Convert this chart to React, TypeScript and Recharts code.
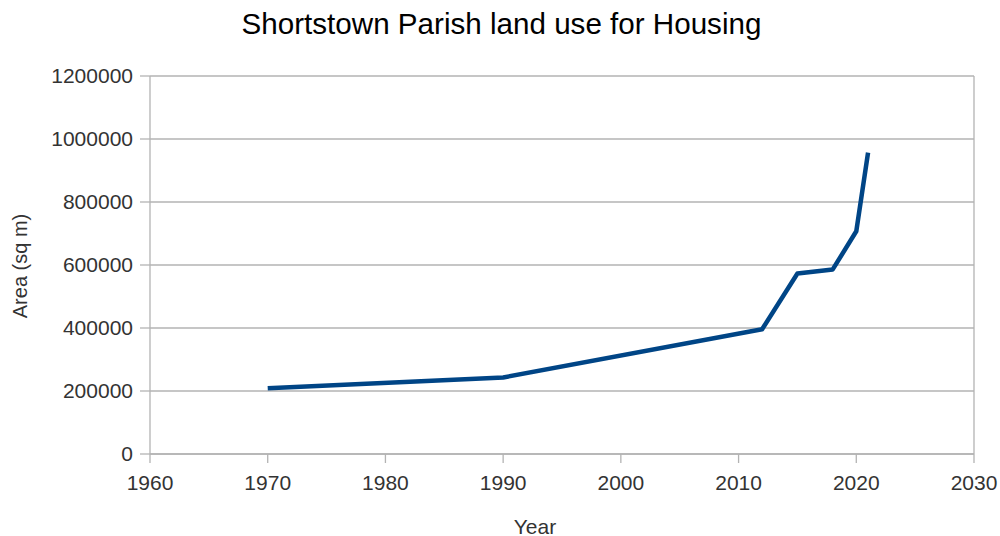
import React from "react";
import {
  LineChart,
  Line,
  XAxis,
  YAxis,
  CartesianGrid,
  ReferenceLine,
  Label,
} from "recharts";

const years = [1970, 1990, 2012, 2015, 2018, 2020, 2021];
const areas = [209000, 243000, 396000, 573000, 586000, 707000, 957000];
const xTicks = [1960, 1970, 1980, 1990, 2000, 2010, 2020, 2030];
const yTicks = [0, 200000, 400000, 600000, 800000, 1000000, 1200000];

const data = years.map((y, i) => ({ year: y, area: areas[i] }));

const FONT = "'Liberation Sans', Arial, sans-serif";
const GRID = "#b3b3b3";

const YearLabel = () => (
  <text
    x={535}
    y={526}
    textAnchor="middle"
    dominantBaseline="central"
    fill="#333"
    fontSize={21}
    fontFamily={FONT}
  >
    Year
  </text>
);

const AreaLabel = () => (
  <text
    x={20}
    y={266}
    transform="rotate(-90 20 266)"
    textAnchor="middle"
    dominantBaseline="central"
    fill="#333"
    fontSize={20}
    fontFamily={FONT}
  >
    Area (sq m)
  </text>
);

export default function App() {
  return (
    <div
      style={{
        position: "absolute",
        left: 0,
        top: 0,
        width: 1000,
        height: 536,
        background: "#fff",
        fontFamily: FONT,
      }}
    >
      <div
        style={{
          position: "absolute",
          top: 7,
          left: 0,
          width: 1003,
          textAlign: "center",
          fontSize: 29.6,
          color: "#000",
          lineHeight: "34px",
        }}
      >
        Shortstown Parish land use for Housing
      </div>
      <LineChart
        width={1000}
        height={536}
        data={data}
        margin={{ top: 76, right: 26, bottom: 0, left: 0 }}
        style={{ position: "absolute", left: 0, top: 0, fontFamily: FONT }}
      >
        <CartesianGrid vertical={false} stroke={GRID} strokeWidth={1.3} />
        <XAxis
          dataKey="year"
          type="number"
          domain={[1960, 2030]}
          ticks={xTicks}
          height={82}
          stroke={GRID}
          strokeWidth={1.3}
          tickSize={9}
          tickMargin={12}
          tick={{ fill: "#333", fontSize: 21, fontFamily: FONT }}
        >
          <Label content={<YearLabel />} />
        </XAxis>
        <YAxis
          type="number"
          domain={[0, 1200000]}
          ticks={yTicks}
          width={150}
          stroke={GRID}
          strokeWidth={1.3}
          tickSize={10}
          tickMargin={7}
          tick={{ fill: "#333", fontSize: 21, fontFamily: FONT }}
        >
          <Label content={<AreaLabel />} />
        </YAxis>
        <ReferenceLine x={2030} stroke={GRID} strokeWidth={1.3} />
        <Line
          type="linear"
          dataKey="area"
          stroke="#004586"
          strokeWidth={4.5}
          strokeLinejoin="round"
          dot={false}
          activeDot={false}
          isAnimationActive={false}
        />
      </LineChart>
    </div>
  );
}
